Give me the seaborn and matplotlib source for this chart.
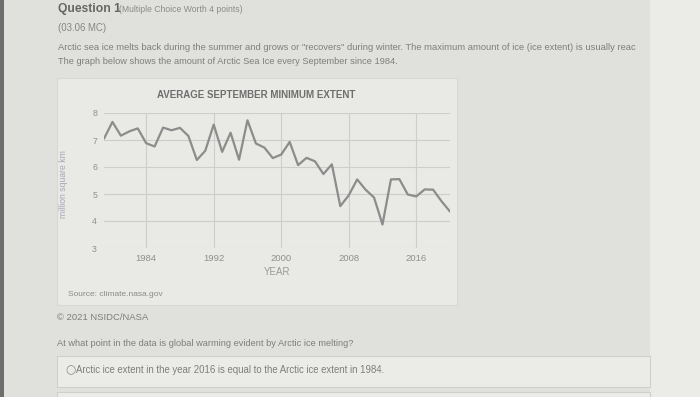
import matplotlib
matplotlib.use("Agg")
import matplotlib.pyplot as plt
import seaborn as sns
import pandas as pd
from matplotlib.patches import Rectangle

# Data (September minimum, million km2)
years = list(range(1979, 2021))
extent = [7.05, 7.67, 7.16, 7.32, 7.43, 6.88, 6.76, 7.46, 7.36, 7.45,
          7.15, 6.26, 6.60, 7.57, 6.56, 7.27, 6.27, 7.73, 6.87, 6.72,
          6.33, 6.46, 6.93, 6.07, 6.34, 6.21, 5.74, 6.10, 4.55, 4.95,
          5.54, 5.16, 4.87, 3.87, 5.54, 5.55, 4.98, 4.91, 5.17, 5.16,
          4.73, 4.35]
x_ticks = [1984, 1992, 2000, 2008, 2016]
y_ticks = [3, 4, 5, 6, 7, 8]

df = pd.DataFrame({"year": years, "extent": extent})

sns.set_style("white")
plt.rcParams["font.family"] = ["Liberation Sans", "DejaVu Sans"]

W, H = 700, 397
fig = plt.figure(figsize=(7, 3.97), dpi=100)
fig.patch.set_facecolor("#dededb")

def box(x, y, w, h, fc, ec="none", lw=0.8):
    fig.patches.append(Rectangle((x / W, 1 - (y + h) / H), w / W, h / H,
                                 transform=fig.transFigure, facecolor=fc,
                                 edgecolor=ec, linewidth=lw, zorder=-5))

def txt(x, y, s, size, color="#7a7a7a", **kw):
    fig.text(x / W, 1 - y / H, s, fontsize=size, color=color, va="center", **kw)

# page background pieces
box(0, 0, 4, H, "#6e6e6e")
box(4, 0, 646, H, "#e0e0dd")
box(650, 0, 50, H, "#ebebe8")
box(57, 78, 400, 227, "#e9e9e6", ec="#d8d8d5")
box(57, 356, 593, 31, "#ebebe8", ec="#cfcfcc")
box(57, 392, 593, 10, "#ebebe8", ec="#cfcfcc")

# header text
txt(58, 9, "Question 1", 8.7, color="#666666", fontweight="bold")
txt(119, 9, "(Multiple Choice Worth 4 points)", 6.2, color="#8a8a8a")
txt(58, 28, "(03.06 MC)", 6.9, color="#858585")
txt(58, 48, "Arctic sea ice melts back during the summer and grows or \"recovers\" during winter. "
            "The maximum amount of ice (ice extent) is usually reac", 6.75, color="#7e7e7e")
txt(58, 61, "The graph below shows the amount of Arctic Sea Ice every September since 1984.",
    6.65, color="#7e7e7e")

# chart
ax = fig.add_axes([104 / W, 1 - 248 / H, 346 / W, 135 / H])
ax.set_facecolor("none")
sns.lineplot(data=df, x="year", y="extent", ax=ax, color="#8c8c8c", linewidth=1.6)
ax.set_xlim(1979, 2020)
ax.set_ylim(3, 8)
ax.set_xticks(x_ticks)
ax.set_yticks(y_ticks)
ax.grid(True, color="#cdcdcb", linewidth=0.8)
ax.set_axisbelow(True)
for s in ax.spines.values():
    s.set_visible(False)
ax.tick_params(axis="y", length=4, color="#cdcdcb", width=0.8, pad=1,
               labelsize=6.3, labelcolor="#8f8f8f")
ax.tick_params(axis="x", length=0, pad=4, labelsize=6.8, labelcolor="#8f8f8f")
ax.set_xlabel("YEAR", fontsize=7, color="#9a9a9a", labelpad=3)
ax.set_ylabel("")

fig.text(256 / W, 1 - 95 / H, "AVERAGE SEPTEMBER MINIMUM EXTENT", fontsize=7,
         fontweight="bold", color="#6e6e6e", ha="center", va="center",
         family=["Liberation Sans Narrow", "Liberation Sans", "DejaVu Sans"])
fig.text(63 / W, 1 - 184 / H, "million square km", fontsize=6.2, color="#a3a8b8",
         rotation=90, ha="center", va="center")

# footer text
txt(68, 294, "Source: climate.nasa.gov", 6.0, color="#8a8a8a")
txt(57, 317, "\u00a9 2021 NSIDC/NASA", 6.8, color="#7e7e7e")
txt(57, 343, "At what point in the data is global warming evident by Arctic ice melting?",
    6.7, color="#7e7e7e")
txt(65, 370, "\u25cb", 8.5, color="#8a8a8a", family=["DejaVu Sans"])
txt(76, 370, "Arctic ice extent in the year 2016 is equal to the Arctic ice extent in 1984.",
    6.95, color="#7e7e7e")

fig.savefig("out.png", dpi=100, facecolor=fig.get_facecolor())
